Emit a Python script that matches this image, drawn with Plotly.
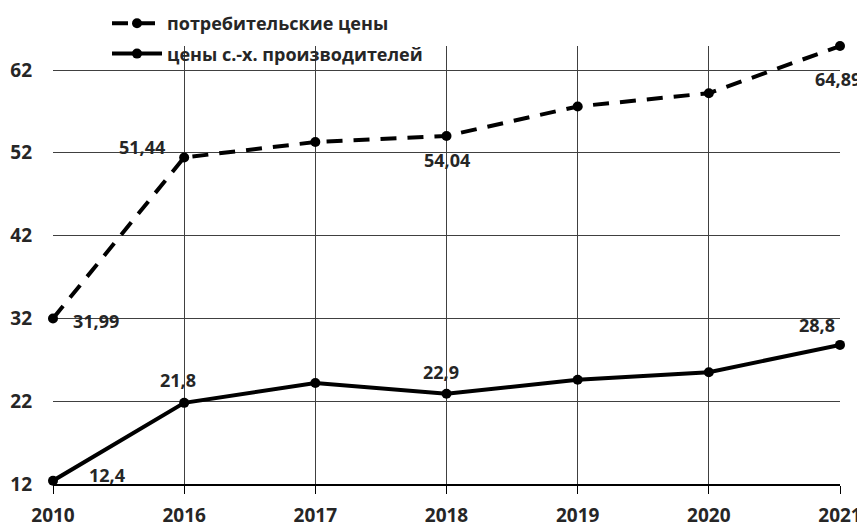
import plotly.graph_objects as go

years = ["2010", "2016", "2017", "2018", "2019", "2020", "2021"]
consumer = [31.99, 51.44, 53.3, 54.04, 57.6, 59.2, 64.89]
producer = [12.4, 21.8, 24.2, 22.9, 24.6, 25.5, 28.8]
consumer_labels = ["31,99", "51,44", "", "54,04", "", "", "64,89"]
producer_labels = ["12,4", "21,8", "", "22,9", "", "", "28,8"]
y_ticks = [12, 22, 32, 42, 52, 62]

FONT = "Open Sans"
TXT = "#262626"

# the page has an 8px body margin, so the figure is drawn 8px smaller
W, H = 865 - 8, 527 - 8
ML, MR, MT, MB = 45, 25, 38, 43
PLOT_W, PLOT_H = W - ML - MR, H - MT - MB

# pixel offsets of the data labels relative to their points
consumer_shift = [(43, -3), (-42, 10), (0, 0), (0, -24), (0, 0), (0, 0), (-2, -33)]
producer_shift = [(54, 6), (-6, 23), (0, 0), (-6, 22), (0, 0), (0, 0), (-23, 20)]

fig = go.Figure()
fig.add_trace(go.Scatter(
    x=years, y=consumer, name="потребительские цены",
    mode="lines+markers", legendgroup="a",
    line=dict(color="black", width=4, dash="16px,11px"),
    marker=dict(color="black", size=10),
    cliponaxis=False,
))
fig.add_trace(go.Scatter(
    x=years, y=producer, name="цены с.-х. производителей",
    mode="lines+markers", legendgroup="b",
    line=dict(color="black", width=4),
    marker=dict(color="black", size=10),
    cliponaxis=False,
))

annotations = []
for labels, values, shifts in [(consumer_labels, consumer, consumer_shift),
                               (producer_labels, producer, producer_shift)]:
    for i in range(len(years)):
        if labels[i]:
            dx, dy = shifts[i]
            annotations.append(dict(
                x=i, y=values[i], xref="x", yref="y", text=labels[i],
                showarrow=False, xshift=dx, yshift=dy,
                font=dict(family=FONT, size=18, color=TXT),
            ))

fig.update_layout(
    width=W, height=H,
    margin=dict(l=ML, r=MR, t=MT, b=MB, autoexpand=False),
    paper_bgcolor="white", plot_bgcolor="white",
    font=dict(family=FONT, size=18, color=TXT, weight="bold"),
    showlegend=True,
    legend=dict(x=(99 - ML) / PLOT_W, y=1 + (MT + 3) / PLOT_H, xanchor="left",
                yanchor="top", bgcolor="rgba(0,0,0,0)", tracegroupgap=4,
                itemwidth=50, font=dict(family=FONT, size=18, color=TXT)),
    annotations=annotations,
    xaxis=dict(type="category", range=[0, 6], showgrid=True,
               gridcolor="#404040", gridwidth=1, automargin=False,
               showline=True, linecolor="black", linewidth=2,
               ticks="outside", ticklen=8, tickcolor="black", tickwidth=1,
               ticklabelstandoff=5,
               tickfont=dict(family=FONT, size=19), zeroline=False),
    yaxis=dict(range=[12, 64.9], tickvals=y_ticks, showgrid=True,
               gridcolor="#404040", gridwidth=1, zeroline=False, automargin=False,
               showline=False, ticks="", ticklabelstandoff=20,
               tickfont=dict(family=FONT, size=19)),
)

fig.write_html("out.html")
